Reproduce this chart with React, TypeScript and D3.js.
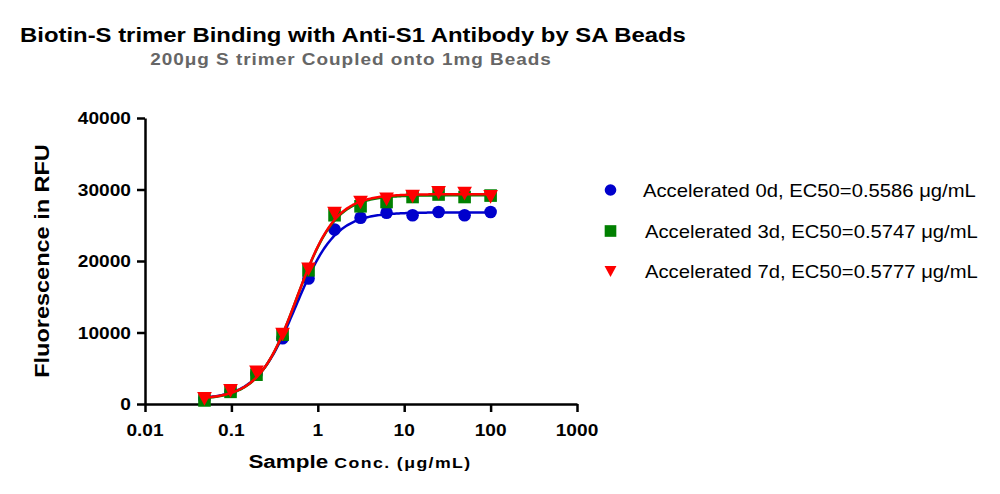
import { useEffect, useRef } from 'react';
import * as d3 from 'd3';

// sample concentrations (ug/mL), 2-fold dilutions from 100
const conc = [0.0488, 0.0977, 0.195, 0.391, 0.781, 1.5625, 3.125, 6.25, 12.5, 25, 50, 100];

const day0 = [700, 1750, 4200, 9200, 17550, 24400, 26050, 26750, 26400, 26850, 26400, 26850];
const day3 = [500, 1700, 4100, 9700, 18700, 26400, 27650, 28250, 28950, 29300, 28950, 29150];
const day7 = [800, 1900, 4500, 9800, 18900, 26700, 28250, 28700, 29100, 29600, 29500, 29050];

// 4PL fit parameters: bottom, top, EC50, hill
const fit0 = [650, 26800, 0.5586, 1.9];
const fit3 = [600, 29200, 0.5747, 1.95];
const fit7 = [650, 29350, 0.5777, 1.95];

const seriesNames = [
    'Accelerated 0d, EC50=0.5586 μg/mL',
    'Accelerated 3d, EC50=0.5747 μg/mL',
    'Accelerated 7d, EC50=0.5777 μg/mL',
];
const colors = ['#0000CC', '#008000', '#FF0000'];
const shapes = ['circle', 'square', 'triangle'];

const xTicks = [0.01, 0.1, 1, 10, 100, 1000];
const yTicks = [0, 10000, 20000, 30000, 40000];

const FONT = 'Liberation Sans, Arial, sans-serif';

type Opts = { size: number; bold?: boolean; sx?: number; anchor?: string; fill?: string; spacing?: number; rotate?: number };

const App = () => {
    const svgRef = useRef<SVGSVGElement | null>(null);

    useEffect(() => {
        if (!svgRef.current) return;
        const svg = d3.select(svgRef.current);
        svg.selectAll('*').remove();

        // the original picture is a bit stretched sideways, so text gets a scaleX
        const label = (parent: any, str: string, x: number, y: number, o: Opts) =>
            parent.append('text')
                .attr('transform', `translate(${x},${y}) rotate(${o.rotate ?? 0}) scale(${o.sx ?? 1},1)`)
                .attr('text-anchor', o.anchor ?? 'start')
                .attr('font-family', FONT)
                .attr('font-weight', o.bold ? 'bold' : 'normal')
                .attr('font-size', o.size)
                .attr('letter-spacing', o.spacing ?? 0)
                .attr('fill', o.fill ?? '#000')
                .text(str);

        const x = d3.scaleLog().domain([0.01, 1000]).range([145, 577]);
        const y = d3.scaleLinear().domain([0, 40000]).range([404, 118]);

        // titles
        label(svg, 'Biotin-S trimer Binding with Anti-S1 Antibody by SA Beads', 20, 42, { size: 20.5, bold: true, sx: 1.165 });
        label(svg, '200μg S trimer Coupled onto 1mg Beads', 351, 65, { size: 16.5, bold: true, sx: 1.15, spacing: 0.85, anchor: 'middle', fill: '#666666' });

        // axes
        const xAxis = svg.append('g')
            .attr('transform', `translate(0,${y(0)})`)
            .call(d3.axisBottom(x).tickValues(xTicks).tickFormat(() => '').tickSize(8).tickSizeOuter(0));
        const yAxis = svg.append('g')
            .attr('transform', `translate(${x(0.01)},0)`)
            .call(d3.axisLeft(y).tickValues(yTicks).tickFormat(() => '').tickSize(8).tickSizeOuter(0));

        [xAxis, yAxis].forEach(g => {
            g.select('.domain').attr('stroke', '#000').attr('stroke-width', 2.5);
            g.selectAll('.tick line').attr('stroke', '#000').attr('stroke-width', 2.5);
        });

        xTicks.forEach(t => label(svg, String(t), x(t), 436, { size: 16.5, bold: true, sx: 1.16, anchor: 'middle' }));
        yTicks.forEach(t => label(svg, String(t), 131, y(t) + 6, { size: 16.5, bold: true, sx: 1.16, anchor: 'end' }));

        // axis labels
        label(svg, 'Fluorescence in RFU', 49, 261, { size: 20, bold: true, sx: 1.175, anchor: 'middle', rotate: -90 });
        const xl = label(svg, '', 360, 468, { size: 19, bold: true, sx: 1.18, anchor: 'middle' });
        xl.append('tspan').attr('font-size', 19).text('Sample ');
        xl.append('tspan').attr('font-size', 15).attr('letter-spacing', 1.2).text('Conc. (μg/mL)');

        const fits = [fit0, fit3, fit7];
        const data = [day0, day3, day7];
        const curveX = d3.range(0, 201).map(i => Math.exp(Math.log(conc[0]) + (Math.log(100) - Math.log(conc[0])) * i / 200));

        const line = d3.line<[number, number]>().x(d => x(d[0])).y(d => y(d[1]));

        const drawMarker = (g: any, shape: string, color: string, cx: number, cy: number, s: number) => {
            if (shape === 'circle') {
                g.append('circle').attr('cx', cx).attr('cy', cy).attr('r', 6 * s).attr('fill', color);
            } else if (shape === 'square') {
                g.append('rect').attr('x', cx - 6 * s).attr('y', cy - 6 * s).attr('width', 12 * s).attr('height', 12 * s).attr('fill', color);
            } else {
                g.append('path')
                    .attr('d', `M${cx - 7 * s},${cy - 6 * s}L${cx + 7 * s},${cy - 6 * s}L${cx},${cy + 7 * s}Z`)
                    .attr('fill', color);
            }
        };

        const plot = svg.append('g');
        fits.forEach((f, si) => {
            const [bottom, top, ec50, hill] = f;
            const pts: [number, number][] = curveX.map(c => [c, bottom + (top - bottom) / (1 + Math.pow(ec50 / c, hill))]);
            const g = plot.append('g');
            data[si].forEach((v, i) => drawMarker(g, shapes[si], colors[si], x(conc[i]), y(v), 1.05));
            g.append('path')
                .attr('d', line(pts))
                .attr('fill', 'none')
                .attr('stroke', colors[si])
                .attr('stroke-width', 2.5);
        });

        // legend
        const legendY = [190, 231, 271];
        const legendX = [643, 645, 645];
        seriesNames.forEach((name, i) => {
            const g = svg.append('g');
            drawMarker(g, shapes[i], colors[i], 610.5, legendY[i], i === 2 ? 0.85 : 0.97);
            label(g, name, legendX[i], legendY[i] + 6.5, { size: 18, sx: 1.125 });
        });
    }, []);

    return (
        <div style={{ position: 'absolute', left: 0, top: 0 }}>
            <svg ref={svgRef} width={1000} height={494} style={{ display: 'block', background: '#fff' }} />
        </div>
    );
};

export default App;
